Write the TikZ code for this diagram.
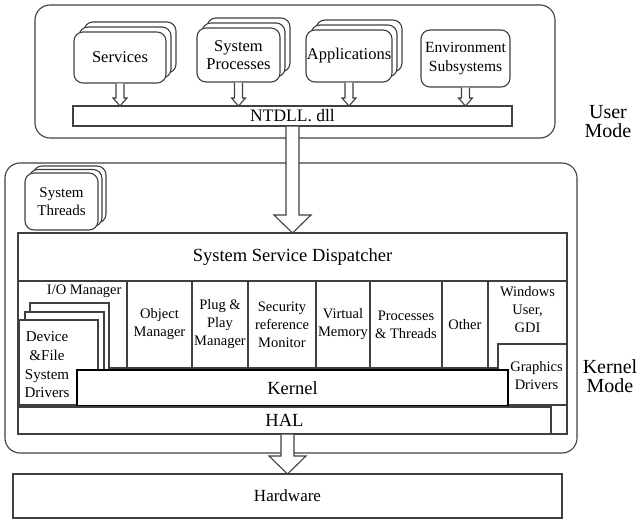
\documentclass[tikz,border=0pt]{standalone}
\usepackage{fontspec}
\setmainfont{Liberation Serif}
\usetikzlibrary{calc, positioning, shadows}

\tikzset{
    boxline/.style={draw=black!75, line width=1.1pt},
    layer/.style={boxline, rounded corners=15pt, inner sep=0pt, outer sep=0pt},
    copy at/.style 2 args={copy shadow={shadow xshift=#1, shadow yshift=#2, draw=black!75, line width=1.1pt}},
    stacked/.style={copy at={10pt}{10pt}, copy at={5pt}{5pt}},
    proc/.style={boxline, fill=white, rounded corners=9pt, align=center, inner sep=0pt, outer sep=0pt, mid},
    cell/.style={boxline, fill=white, align=center, inner sep=0pt, outer sep=0pt, small},
    hollow/.style={boxline, fill=white, line join=miter},
    big/.style={font=\fontsize{18.5}{21}\selectfont},
    mid/.style={font=\fontsize{16.5}{18.5}\selectfont},
    small/.style={font=\fontsize{14.5}{18}\selectfont},
    mode/.style={align=center, font=\fontsize{20}{19}\selectfont}
}

% hollow block arrow: start, end, half shaft, half head, head length
\newcommand\hollowarrow[5]{%
    \draw[hollow] let \p1=(#1), \p2=(#2) in
        (\x1-#3,\y1-0.6pt) -- (\x1-#3,\y2+#5) -- (\x1-#4,\y2+#5) -- (\x1,\y2)
        -- (\x1+#4,\y2+#5) -- (\x1+#3,\y2+#5) -- (\x1+#3,\y1-0.6pt);}

\begin{document}
\begin{tikzpicture}[x=1pt, y=-1pt]
    \useasboundingbox (0,0) rectangle (640,524);

    % user mode
    \node[layer, minimum width=520pt, minimum height=133pt] (userbox) at (295,71.5) {};
    \node[proc, stacked, minimum width=92pt, minimum height=51pt] (services) at (120,57.5) {Services};
    \node[proc, stacked, minimum width=83pt, minimum height=54pt] (sysproc) at (238.5,55) {System\\Processes};
    \node[proc, stacked, minimum width=86pt, minimum height=52pt] (apps) at (349,56) {Applications};
    \node[proc, minimum width=89pt, minimum height=57pt, font=\fontsize{15.5}{19.5}\selectfont] (envsub) at (465.5,58.5) {Environment\\Subsystems};
    \node[cell, font=\fontsize{17.5}{20}\selectfont, minimum width=439pt, minimum height=20pt] (ntdll) at (292.5,116) {NTDLL. dll};
    \node[mode] (usermode) at (608,122) {User\\Mode};

    \hollowarrow{services.south}{ntdll.north}{4pt}{7pt}{8pt}
    \hollowarrow{sysproc.south}{ntdll.north}{4pt}{7pt}{8pt}
    \hollowarrow{apps.south}{ntdll.north}{4pt}{7pt}{8pt}
    \hollowarrow{envsub.south}{ntdll.north}{4pt}{7pt}{8pt}

    % kernel mode
    \node[layer, minimum width=572pt, minimum height=290pt] (kernbox) at (291,308) {};
    \node[proc, copy at={8pt}{7pt}, copy at={4pt}{3.5pt}, minimum width=73pt, minimum height=57pt, font=\fontsize{15}{18.5}\selectfont] (threads) at (61.5,201.5) {System\\Threads};
    \node[boxline, anchor=north west, inner sep=0pt, outer sep=0pt, minimum width=549pt, minimum height=201pt] (frame) at (18,233) {};
    \node[cell, big, anchor=north west, minimum width=549pt, minimum height=48pt] (dispatch) at (18,233) {System Service Dispatcher};

    % executive components
    \node[cell, anchor=north west, minimum width=109pt, minimum height=87pt,
        label={[small, anchor=north east, xshift=-2pt]north east:I/O Manager}] (iocell) at (18,281) {};
    \node[cell, right=0pt of iocell, minimum width=65pt, minimum height=87pt] (objcell) {Object\\Manager};
    \node[cell, right=0pt of objcell, minimum width=56pt, minimum height=87pt] (pnpcell) {Plug \&\\Play\\Manager};
    \node[cell, right=0pt of pnpcell, minimum width=68pt, minimum height=87pt] (seccell) {Security\\reference\\Monitor};
    \node[cell, right=0pt of seccell, minimum width=54pt, minimum height=87pt] (vmcell) {Virtual\\Memory};
    \node[cell, right=0pt of vmcell, minimum width=72pt, minimum height=87pt] (ptcell) {Processes\\\& Threads};
    \node[cell, right=0pt of ptcell, minimum width=46pt, minimum height=87pt] (othercell) {Other};
    \node[cell, right=0pt of othercell, minimum width=79pt, minimum height=87pt,
        label={[small, align=center, anchor=north, yshift=-2pt]north:Windows\\User,\\GDI}] (wincell) {};

    \node[boxline, fill=white, copy at={11pt}{17pt}, copy at={6pt}{8pt}, anchor=north west,
        inner sep=0pt, outer sep=0pt, minimum width=79pt, minimum height=85pt] (device) at (19,320) {};
    \node[align=center, font=\fontsize{15}{18.7}\selectfont] (devtext) at (47,365) {Device\\\&File\\System\\Drivers};
    \node[cell, anchor=north west, minimum width=69pt, minimum height=61pt,
        label={[small, align=center, xshift=4pt, yshift=-1pt]center:Graphics\\Drivers}] (graphics) at (498,344) {};

    \node[draw=black, line width=2pt, fill=white, big, anchor=north west, inner sep=0pt,
        minimum width=431pt, minimum height=36pt] (kernel) at (76,369) {Kernel};
    \node[cell, big, anchor=north west, minimum width=533pt, minimum height=27pt] (hal) at (18,407) {HAL};
    \node[mode] (kernmode) at (610,376) {Kernel\\Mode};

    % hardware
    \node[cell, font=\fontsize{17}{20}\selectfont, anchor=north west, minimum width=549pt, minimum height=44pt] (hardware) at (13,474) {Hardware};

    \hollowarrow{ntdll.south}{dispatch.north}{6.5pt}{18.5pt}{18pt}
    \hollowarrow{hardware.north |- hal.south}{hardware.north}{6.5pt}{18.5pt}{18pt}
\end{tikzpicture}
\end{document}
